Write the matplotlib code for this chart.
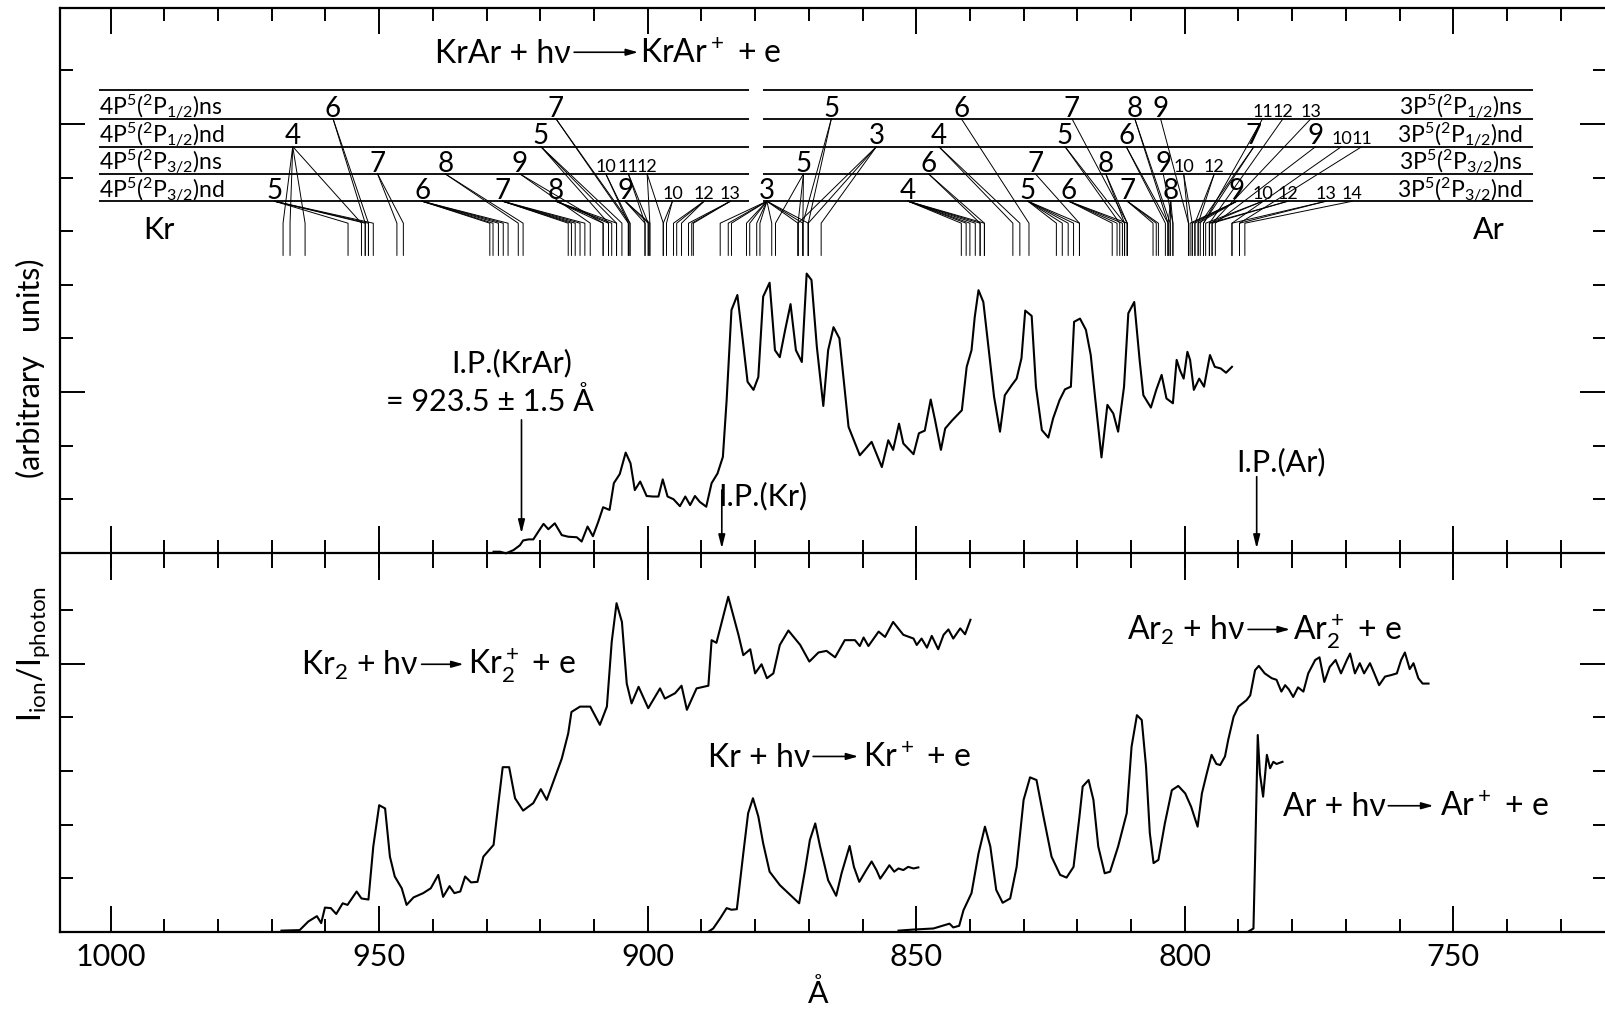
import matplotlib
matplotlib.use("Agg")
import matplotlib.pyplot as plt

plt.rcParams['font.family'] = ['Lato', 'DejaVu Sans']
plt.rcParams['font.weight'] = 'normal'
plt.rcParams['mathtext.default'] = 'regular'
plt.rcParams['text.color'] = 'black'

# --- spectra: wavelength (A) and signal (arb. units) ---
kr2_wl = [968.2, 964.8, 963.2, 961.6, 960.8, 960.1, 959.0, 958.0, 956.8, 955.9,
          954.2, 953.3, 952.0, 951.1, 950.0, 948.9, 948.0, 947.1, 945.8, 944.9,
          943.6, 941.8, 940.4, 939.0, 938.1, 936.9, 936.0, 934.9, 934.0, 932.9,
          931.7, 930.6, 928.7, 927.8, 927.0, 925.8, 924.7, 923.2, 921.3, 919.9,
          918.8, 916.0, 914.8, 914.2, 912.6, 910.7, 908.9, 907.6, 906.7, 905.8,
          904.8, 903.9, 903.0, 901.7, 899.9, 897.7, 896.8, 894.9, 893.7, 892.7,
          890.9, 888.7, 888.1, 887.2, 885.0, 883.1, 882.2, 880.9, 880.0, 878.8,
          877.8, 876.6, 875.4, 873.8, 871.6, 869.9, 868.2, 866.7, 865.1, 863.3,
          861.4, 860.5, 859.8, 858.9, 857.0, 855.8, 854.3, 852.4, 850.5, 849.9,
          849.0, 848.0, 847.1, 845.9, 844.9, 844.0, 843.1, 841.8, 840.9, 839.9]
kr2_sig = [0.02, 0.03, 0.19, 0.29, 0.16, 0.45, 0.44, 0.33, 0.53, 0.50,
           0.75, 0.62, 0.60, 1.59, 2.36, 2.30, 1.40, 1.03, 0.81, 0.50,
           0.64, 0.72, 0.81, 1.06, 0.65, 0.85, 0.72, 0.75, 1.03, 0.92,
           0.93, 1.40, 1.62, 2.40, 3.07, 3.07, 2.49, 2.26, 2.40, 2.66,
           2.46, 3.23, 3.70, 4.10, 4.20, 4.20, 3.86, 4.20, 5.41, 6.13,
           5.78, 4.63, 4.26, 4.57, 4.17, 4.54, 4.35, 4.45, 4.59, 4.14,
           4.54, 4.59, 5.44, 5.39, 6.25, 5.54, 5.16, 5.27, 4.82, 4.99,
           4.73, 4.82, 5.35, 5.62, 5.35, 5.04, 5.21, 5.24, 5.12, 5.44,
           5.44, 5.33, 5.49, 5.33, 5.60, 5.50, 5.78, 5.54, 5.47, 5.35,
           5.47, 5.30, 5.52, 5.27, 5.54, 5.64, 5.47, 5.66, 5.55, 5.82]

kr_wl = [888.7, 887.8, 886.5, 885.3, 884.4, 883.4, 882.2, 881.3, 880.4, 879.4,
         878.5, 877.3, 875.4, 873.5, 871.8, 870.7, 869.8, 868.8, 867.9, 866.4,
         864.9, 863.9, 862.4, 861.6, 860.6, 859.3, 858.3, 857.4, 856.7, 855.8,
         855.0, 854.1, 853.3, 852.4, 851.5, 850.5, 849.6]
kr_sig = [0.0, 0.06, 0.25, 0.44, 0.41, 0.42, 1.46, 2.21, 2.49, 2.15,
          1.65, 1.12, 0.87, 0.69, 0.53, 1.15, 1.71, 2.02, 1.59, 0.96,
          0.67, 1.09, 1.60, 1.21, 0.93, 1.15, 1.31, 1.15, 0.99, 1.12,
          1.24, 1.12, 1.18, 1.15, 1.21, 1.18, 1.20]

ar2_wl = [853.3, 850.5, 846.8, 843.8, 843.1, 842.0, 841.2, 839.7, 838.4, 837.2,
          836.2, 835.1, 833.9, 832.5, 831.3, 830.0, 828.8, 827.6, 826.3, 824.8,
          823.2, 822.0, 820.7, 819.6, 819.0, 817.9, 817.0, 816.1, 814.9, 813.9,
          812.4, 810.8, 809.9, 808.9, 808.0, 807.2, 806.5, 805.8, 804.9, 803.7,
          802.4, 801.2, 799.9, 798.8, 797.6, 796.8, 795.9, 795.0, 794.1, 793.4,
          792.5, 791.9, 790.9, 790.0, 788.5, 787.8, 786.9, 786.2, 785.1, 783.8,
          782.9, 782.0, 781.3, 780.6, 779.8, 778.9, 777.9, 777.0, 775.7, 774.9,
          774.0, 773.0, 771.9, 770.9, 769.8, 769.2, 768.3, 767.4, 766.6, 765.5,
          764.7, 763.8, 762.7, 761.5, 760.5, 759.7, 759.0, 758.1, 757.4, 756.5,
          755.7, 754.6]
ar2_sig = [0.02, 0.04, 0.06, 0.15, 0.08, 0.11, 0.40, 0.72, 1.46, 1.96,
           1.59, 0.78, 0.54, 0.62, 1.21, 2.46, 2.88, 2.83, 2.15, 1.40,
           1.06, 1.01, 1.21, 2.15, 2.71, 2.83, 2.46, 1.59, 1.09, 1.12,
           1.59, 2.21, 3.45, 4.04, 3.95, 3.08, 1.84, 1.28, 1.34, 2.02,
           2.64, 2.72, 2.58, 2.33, 1.96, 2.58, 2.95, 3.30, 3.13, 3.11,
           3.27, 3.58, 4.01, 4.20, 4.32, 4.41, 4.88, 4.96, 4.82, 4.73,
           4.70, 4.48, 4.60, 4.52, 4.38, 4.56, 4.48, 4.82, 5.07, 5.12,
           4.66, 4.94, 5.07, 4.82, 5.07, 5.19, 4.82, 5.01, 4.82, 5.01,
           4.82, 4.60, 4.76, 4.79, 4.82, 5.07, 5.21, 4.90, 5.01, 4.73,
           4.63, 4.63]

ar_wl = [788.2, 787.2, 786.9, 786.4, 786.0, 785.4, 784.7, 784.1, 783.5, 782.9, 781.8]
ar_sig = [0.0, 0.06, 1.34, 3.67, 2.95, 2.52, 3.30, 3.05, 3.17, 3.13, 3.17]

krar_wl = [928.7, 927.5, 926.4, 925.0, 923.8, 923.2, 922.2, 921.3, 920.4, 919.4,
           918.5, 917.3, 916.0, 914.8, 913.2, 912.3, 911.2, 910.2, 909.2, 908.3,
           907.1, 906.3, 905.2, 904.1, 903.2, 902.4, 901.4, 900.2, 899.0, 898.0,
           897.2, 896.3, 895.2, 894.0, 893.0, 892.1, 891.2, 890.3, 889.1, 888.1,
           887.0, 886.0, 885.3, 884.4, 883.3, 882.3, 881.4, 880.3, 879.4, 878.5,
           877.3, 876.3, 875.4, 874.4, 873.4, 872.4, 871.3, 870.4, 869.5, 868.5,
           867.3, 866.4, 865.4, 864.3, 862.6, 860.5, 858.3, 856.4, 855.2, 854.3,
           853.2, 852.4, 850.5, 849.5, 848.4, 847.3, 846.5, 845.4, 844.6, 843.4,
           841.5, 840.6, 839.7, 839.1, 838.4, 837.5, 836.6, 835.5, 834.4, 833.5,
           832.2, 831.3, 830.4, 829.7, 828.5, 827.7, 826.6, 825.4, 824.5, 823.3,
           822.3, 821.2, 820.6, 819.5, 818.4, 817.5, 816.7, 815.5, 814.4, 813.3,
           812.4, 811.3, 810.5, 809.4, 808.4, 807.7, 806.3, 805.3, 804.3, 803.4,
           802.2, 801.5, 800.9, 800.2, 799.5, 799.0, 798.3, 797.3, 796.4, 795.3,
           794.4, 793.3, 792.3, 791.2]
krar_sig = [7.09, 7.09, 7.06, 7.12, 7.21, 7.30, 7.32, 7.32, 7.46, 7.61,
            7.51, 7.62, 7.40, 7.37, 7.36, 7.28, 7.56, 7.38, 7.65, 7.92,
            7.87, 8.37, 8.54, 8.94, 8.74, 8.24, 8.40, 8.13, 8.12, 8.12,
            8.44, 8.12, 8.07, 7.94, 8.12, 7.96, 8.13, 8.02, 7.93, 8.37,
            8.55, 8.86, 9.92, 11.60, 11.88, 11.04, 10.26, 10.11, 10.35, 11.85,
            12.11, 10.85, 10.72, 11.23, 11.71, 10.85, 10.63, 12.28, 12.16, 10.91,
            9.81, 10.85, 11.28, 11.07, 9.42, 8.89, 9.14, 8.67, 9.17, 8.99,
            9.48, 9.11, 8.91, 9.30, 9.35, 9.93, 9.55, 8.99, 9.39, 9.53,
            9.73, 10.54, 10.85, 11.47, 11.97, 11.75, 10.95, 9.98, 9.33, 10.01,
            10.20, 10.32, 10.70, 11.59, 11.49, 10.17, 9.36, 9.22, 9.58, 9.92,
            10.12, 10.17, 11.38, 11.44, 11.23, 10.76, 9.98, 8.85, 9.83, 9.67,
            9.33, 10.17, 11.54, 11.75, 10.67, 10.01, 9.78, 10.11, 10.39, 9.95,
            9.86, 10.67, 10.48, 10.32, 10.82, 10.67, 10.11, 10.32, 10.17, 10.76,
            10.54, 10.51, 10.43, 10.54]

# --- Rydberg level labels: text, row (1..4), label position, series lines (A) ---
lev_text = ["4", "5", "6", "7", "6", "8", "7", "9", "8", "5", "7", "10", "9", "11", "12",
            "10", "12", "13", "3",
            "5", "5", "3", "4", "6", "4", "6", "5", "7", "6", "5", "7", "8", "7", "6", "8",
            "8", "9", "9", "10", "12", "9", "7", "11", "10", "12", "12", "13", "9", "10",
            "11", "13", "14"]
lev_row = [2, 4, 1, 3, 4, 3, 4, 3, 4, 2, 1, 3, 4, 3, 3,
           4, 4, 4, 4,
           3, 1, 2, 4, 3, 2, 1, 4, 3, 4, 2, 1, 3, 4, 2, 1,
           4, 3, 1, 3, 3, 4, 2, 1, 4, 1, 4, 1, 2, 2,
           2, 4, 4]
lev_x = [966.1, 969.5, 958.6, 950.3, 942.0, 937.7, 927.0, 923.8, 917.1, 919.9, 917.1, 907.8,
         904.2, 903.6, 900.1, 895.4, 889.5, 884.6, 877.8,
         871.0, 865.8, 857.4, 851.5, 847.7, 845.8, 841.6, 829.2, 827.8, 821.6, 822.3, 821.0,
         814.7, 810.7, 810.9, 809.3, 802.6, 804.0, 804.5, 800.2, 794.5, 790.3, 787.1, 785.5,
         785.5, 781.7, 780.8, 776.5, 775.6, 770.8, 767.0, 773.7, 768.8]
lev_lines = [[967.9, 966.6, 963.8, 953.3], [955.8, 952.6, 952.0, 951.1], [952.6, 952.0],
             [946.7, 945.5], [929.4, 928.8, 927.8, 926.9, 926.0], [924.1, 923.2],
             [914.8, 914.2, 913.5, 912.6, 911.7], [910.7, 908.3], [908.3, 907.3, 906.7, 905.8],
             [907.3, 905.8, 904.8], [903.6, 903.3], [903.6, 903.3], [900.5, 899.9, 899.6],
             [900.5, 899.9], [899.6, 897.1], [897.1, 896.5], [895.2, 894.6, 893.7],
             [892.4, 891.8, 891.5],
             [886.5, 885.0, 884.4, 881.6, 881.0, 879.7, 879.1, 876.9, 872.0, 871.1, 870.1],
             [876.2, 872.0, 871.1], [871.1, 870.1], [872.0, 870.1, 867.7],
             [841.6, 840.7, 840.0, 839.0, 838.1, 837.3], [838.1, 837.3], [832.0, 830.7],
             [829.0], [823.9, 822.8, 821.7, 820.7, 819.6], [819.6],
             [813.5, 812.6, 811.6, 810.7], [812.1, 811.2], [810.7], [811.2, 810.7],
             [805.9, 805.3, 804.9], [803.6, 803.1], [803.1, 802.7], [803.1, 802.7, 802.2],
             [802.2], [799.3], [799.3, 798.6], [798.1, 797.5], [799.0, 798.6, 798.1, 797.5],
             [797.1, 796.5], [796.5], [796.1, 795.4], [795.4], [795.4, 794.9], [794.9],
             [794.3], [791.2], [789.8], [791.2, 789.8], [788.8]]

kr_rows = ["4P$^5$($^2$P$_{1/2}$)ns", "4P$^5$($^2$P$_{1/2}$)nd",
           "4P$^5$($^2$P$_{3/2}$)ns", "4P$^5$($^2$P$_{3/2}$)nd"]
ar_rows = ["3P$^5$($^2$P$_{1/2}$)ns", "3P$^5$($^2$P$_{1/2}$)nd",
           "3P$^5$($^2$P$_{3/2}$)ns", "3P$^5$($^2$P$_{3/2}$)nd"]
row_lines = [15.70, 15.17, 14.65, 14.14, 13.63]

x_major = [750, 800, 850, 900, 950, 1000]
x_minor = list(range(730, 1010, 10))
y_major = [5, 10.07, 15.07]
y_minor = [1, 2, 3, 4, 6, 8.07, 9.07, 11.07, 12.07, 13.07, 14.07, 16.07]
mid_y = 7.07

fig = plt.figure(figsize=(16.05, 10.10), dpi=100)
ax = fig.add_axes([60.2 / 1605, 1 - 931.7 / 1010, 1545 / 1605, 923.4 / 1010])
ax.set_xlim(1009.4, 721.7)
ax.set_ylim(0, 17.23)

for s in ['left', 'top', 'bottom']:
    ax.spines[s].set_linewidth(1.6)
ax.spines['right'].set_visible(False)

ax.set_xticks(x_major)
ax.set_xticks(x_minor, minor=True)
ax.set_xticklabels([str(v) for v in x_major])
ax.tick_params(axis='x', which='major', direction='in', length=19, width=1.4,
               top=True, labelsize=22, pad=8)
ax.tick_params(axis='x', which='minor', direction='in', length=9.5, width=1.4, top=True)
ax.set_yticks(y_major)
ax.set_yticks(y_minor, minor=True)
ax.tick_params(axis='y', which='both', direction='in', right=True, labelleft=False, width=1.4)
ax.tick_params(axis='y', which='major', length=18)
ax.tick_params(axis='y', which='minor', length=9)

# middle baseline with its own ticks
ax.axhline(mid_y, color='k', lw=1.6)
ax.vlines(x_minor, mid_y - 0.28, mid_y + 0.24, color='k', lw=1.4)
ax.vlines(x_major, mid_y - 0.5, mid_y + 0.5, color='k', lw=1.4)

# spectra
for wl, sig in [(kr2_wl, kr2_sig), (kr_wl, kr_sig), (ar2_wl, ar2_sig),
                (ar_wl, ar_sig), (krar_wl, krar_sig)]:
    ax.plot(wl, sig, color='k', lw=1.5, solid_joinstyle='round')

# level diagram
ax.hlines(row_lines, 1002.1, 881.1, color='k', lw=1.3)
ax.hlines(row_lines, 878.5, 735.1, color='k', lw=1.3)
for i in range(4):
    y = row_lines[i + 1] + 0.06
    ax.text(1002.1, y, kr_rows[i], ha='left', va='baseline', fontsize=16.5)
    ax.text(737.0, y, ar_rows[i], ha='right', va='baseline', fontsize=16.5)

bar_top, bar_bot = 13.22, 12.62
for txt, row, x, bars in zip(lev_text, lev_row, lev_x, lev_lines):
    y0 = row_lines[row]
    ax.text(x, y0 + 0.04, txt, ha='center', va='baseline',
            fontsize=20 if len(txt) == 1 else 13)
    for b in bars:
        ax.plot([x, b, b], [y0, bar_top, bar_bot], color='k', lw=0.7)

ax.text(991.1, 13.09, "Kr", ha='center', va='center', fontsize=22)
ax.text(743.3, 13.09, "Ar", ha='center', va='center', fontsize=22)

# reactions
def reaction(left, right, xl, xa0, xa1, xr, yb):
    ax.text(xl, yb, left, ha='right', va='baseline', fontsize=23)
    ax.annotate('', xy=(xa1, yb + 0.2), xytext=(xa0, yb + 0.2),
                arrowprops=dict(arrowstyle='-|>,head_length=0.7,head_width=0.2',
                                color='k', lw=1.2, shrinkA=0, shrinkB=0))
    ax.text(xr, yb, right, ha='left', va='baseline', fontsize=23)

reaction("KrAr + hν", "KrAr$^+$ + e", 914.3, 913.7, 901.8, 901.4, 16.21)
reaction("Kr$_2$ + hν", "Kr$_2^+$ + e", 942.7, 942.1, 934.3, 933.4, 4.79)
reaction("Kr + hν", "Kr$^+$ + e", 869.8, 869.2, 860.8, 859.85, 3.07)
reaction("Ar$_2$ + hν", "Ar$_2^+$ + e", 788.8, 788.2, 780.4, 779.8, 5.44)
reaction("Ar + hν", "Ar$^+$ + e", 762.6, 762.1, 753.7, 752.5, 2.15)

# ionisation potentials
ip_style = dict(arrowstyle='-|>,head_length=0.8,head_width=0.2', color='k', lw=1.2,
                shrinkA=0, shrinkB=0)
ax.annotate('', xy=(923.5, 7.43), xytext=(923.5, 9.55), arrowprops=ip_style)
ax.annotate('', xy=(886.2, 7.15), xytext=(886.2, 8.24), arrowprops=ip_style)
ax.annotate('', xy=(786.6, 7.15), xytext=(786.6, 8.49), arrowprops=ip_style)
ax.text(925.3, 10.61, "I.P.(KrAr)", ha='center', va='center', fontsize=22)
ax.text(929.3, 9.89, "= 923.5 ± 1.5 Å", ha='center', va='center', fontsize=22)
ax.text(878.5, 8.12, "I.P.(Kr)", ha='center', va='center', fontsize=22)
ax.text(782.0, 8.77, "I.P.(Ar)", ha='center', va='center', fontsize=22)

# axis titles
fig.text(0.019, 0.635, "(arbitrary   units)", rotation=90, ha='center', va='center',
         fontsize=22)
fig.text(0.021, 0.352, "I$_{ion}$/I$_{photon}$", rotation=90, ha='center', va='center',
         fontsize=23)
fig.text(818 / 1605, 0.0168, "Å", ha='center', va='center', fontsize=22)

fig.savefig("out.png", dpi=100)
